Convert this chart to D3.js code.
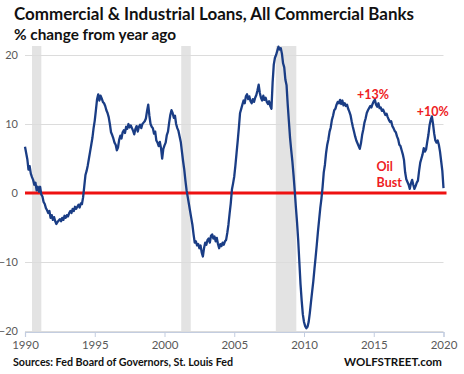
<!DOCTYPE html>
<html><head><meta charset="utf-8">
<script src="https://cdn.jsdelivr.net/npm/d3@7"></script>
<style>
html,body{margin:0;padding:0;background:#fff;}
svg{display:block;font-family:Lato,"Open Sans",sans-serif;}
</style></head>
<body><svg id="c" width="464" height="374"></svg>
<script>
// ---- data ----
const startYear = 1990; // monthly series starting Jan 1990
const pctChange = [
 6.7,5.8,4.9,3.4,3.9,2.8,2.3,1.9,1.2,1.5,0.4,0.9,
 0.2,0.9,-0.2,-0.5,-1.3,-1.6,-2.2,-2.5,-2.9,-2.6,-3.6,-3.2,
 -3.9,-3.5,-4.1,-4.5,-4.2,-4.0,-3.8,-4.1,-3.6,-3.9,-3.3,-3.6,
 -3.2,-3.4,-2.9,-2.6,-2.9,-2.3,-2.6,-2.0,-2.3,-2.0,-1.7,-2.1,
 -1.5,-1.6,-0.6,1.0,2.6,3.2,4.0,5.0,6.0,7.0,8.0,9.4,
 10.5,12.0,13.6,14.3,13.4,14.1,13.7,13.2,13.0,12.6,12.0,11.6,
 11.0,10.0,8.8,8.4,7.9,7.3,7.0,6.2,6.6,7.7,8.3,7.9,
 8.8,9.1,8.7,9.6,9.3,10.0,9.5,9.8,9.4,9.0,8.5,9.3,
 9.7,8.9,9.6,9.9,9.4,10.0,10.2,10.4,10.8,11.9,12.8,11.2,
 10.0,9.6,9.4,8.6,8.9,7.6,7.3,6.8,7.4,6.5,5.0,6.4,
 6.9,7.3,8.4,8.9,10.2,11.3,12.0,11.6,10.9,11.2,10.0,9.4,
 9.0,8.2,7.4,6.0,4.6,3.4,1.8,0.4,-0.6,-1.6,-2.6,-3.6,
 -4.6,-6.0,-7.2,-7.0,-7.6,-7.4,-8.0,-7.6,-8.6,-9.2,-8.0,-7.2,
 -7.5,-6.8,-6.6,-7.2,-6.2,-6.0,-6.6,-6.3,-7.0,-6.5,-7.4,-8.0,
 -7.4,-7.7,-7.2,-7.5,-7.0,-6.8,-5.8,-4.6,-3.0,-1.5,0.5,1.4,
 2.4,4.0,5.8,7.6,9.5,11.6,12.2,12.8,13.4,13.0,14.0,14.3,
 13.6,14.0,13.3,13.0,13.6,13.2,13.8,14.2,14.9,15.7,14.5,13.8,
 13.4,14.1,13.5,13.8,13.2,12.9,13.3,12.6,12.2,16.0,18.6,19.6,
 20.0,20.6,21.2,20.8,21.0,20.2,18.8,18.2,16.4,15.6,12.8,10.4,
 8.0,6.2,4.6,2.6,0.4,-2.0,-4.2,-6.8,-10.0,-13.2,-15.6,-17.6,
 -18.7,-19.3,-19.6,-19.4,-18.7,-17.4,-15.8,-14.3,-12.8,-11.0,-9.3,-7.5,
 -5.6,-3.9,-2.2,-0.8,0.9,3.0,4.1,5.8,7.0,7.8,8.9,9.5,
 10.6,11.2,12.0,12.2,12.8,13.2,13.0,13.5,12.9,13.4,12.7,13.0,
 12.6,12.8,12.2,11.8,11.3,10.4,9.6,8.9,8.2,7.6,7.2,6.8,
 6.4,7.2,8.4,9.2,10.2,10.8,11.6,12.0,12.3,12.6,12.4,12.9,
 13.3,13.5,12.8,12.5,13.0,12.3,12.4,11.9,12.1,11.7,11.3,11.5,
 11.0,10.6,10.3,10.4,9.7,9.4,9.0,8.8,8.2,7.8,7.0,6.8,
 6.2,5.6,4.8,3.0,2.0,1.6,1.2,0.6,1.4,1.9,1.2,0.6,
 1.0,1.5,1.8,3.2,4.4,5.0,5.6,6.5,6.0,6.3,7.4,8.4,
 9.8,10.6,11.1,10.0,8.6,7.6,7.3,7.6,7.0,6.0,4.6,3.2,
 0.7
];
const recessions = [[1990.5, 1991.17], [2001.2, 2001.88], [2007.98, 2009.45]];
const xTicks = [1990, 1995, 2000, 2005, 2010, 2015, 2020];
const yTicks = [-20, -10, 0, 10, 20];
const annotations = [
  {text: "+13%", year: 2013.8, value: 13.6},
  {text: "+10%", year: 2018.08, value: 11.2},
  {text: "Oil", year: 2015.2, value: 3.2},
  {text: "Bust", year: 2015.2, value: 0.83}
];
const titleText = "Commercial & Industrial Loans, All Commercial Banks";
const subtitleText = "% change from year ago";
const sourceText = "Sources: Fed Board of Governors, St. Louis Fed";
const brandText = "WOLFSTREET.com";

// ---- chart ----
const svg = d3.select("#c");
const x = d3.scaleLinear().domain([1990, 2020]).range([25, 443.5]);
const y = d3.scaleLinear().domain([-20, 20]).range([331, 55]);

const series = pctChange.map((v, i) => ({t: startYear + i / 12, v}));

// recession bands
svg.append("g").selectAll("rect").data(recessions).join("rect")
  .attr("x", d => x(d[0])).attr("width", d => x(d[1]) - x(d[0]))
  .attr("y", 46).attr("height", y(-20) - 46)
  .attr("fill", "#e3e3e3");

// gridlines + y labels
const yAxis = svg.append("g").attr("transform", `translate(${x(1990)},0)`)
  .call(d3.axisLeft(y).tickValues(yTicks).tickSize(-(x(2020) - x(1990))).tickPadding(7).tickFormat(d3.format("d")));
yAxis.select(".domain").remove();
yAxis.selectAll(".tick line").attr("stroke", "#dcdcdc").attr("stroke-width", 1);
yAxis.selectAll(".tick text").attr("fill", "#595959").attr("font-size", 11)
  .attr("font-family", "Lato, sans-serif");

// x axis
const xAxis = svg.append("g").attr("transform", `translate(0,${y(-20) + 1})`)
  .call(d3.axisBottom(x).tickValues(xTicks).tickSize(5).tickPadding(4).tickFormat(d3.format("d")));
xAxis.select(".domain").attr("stroke", "#c3cde0").attr("stroke-width", 1.2);
xAxis.selectAll(".tick line").attr("stroke", "#c3cde0");
xAxis.selectAll(".tick text").attr("fill", "#595959").attr("font-size", 11.5)
  .attr("font-family", "Lato, sans-serif");

// zero line
svg.append("line").attr("x1", x(1990)).attr("x2", x(2020) + 3)
  .attr("y1", y(0)).attr("y2", y(0))
  .attr("stroke", "#ee1111").attr("stroke-width", 3);

// data line
svg.append("path").datum(series)
  .attr("d", d3.line().x(d => x(d.t)).y(d => y(d.v)))
  .attr("fill", "none").attr("stroke", "#1a3d85").attr("stroke-width", 2.3)
  .attr("stroke-linejoin", "round");

// annotations
svg.append("g").selectAll("text").data(annotations).join("text")
  .attr("x", d => x(d.year)).attr("y", d => y(d.value))
  .attr("fill", "#ee1c24").attr("font-weight", "bold").attr("font-size", 12.5)
  .attr("font-family", "Lato, sans-serif")
  .text(d => d.text);

// titles
svg.append("text").attr("x", 14).attr("y", 20)
  .attr("font-weight", "bold").attr("font-size", 16.5).attr("fill", "#111")
  .attr("textLength", 400).attr("lengthAdjust", "spacingAndGlyphs")
  .text(titleText);
svg.append("text").attr("x", 14).attr("y", 40)
  .attr("font-weight", "bold").attr("font-size", 15).attr("fill", "#111")
  .attr("textLength", 162).attr("lengthAdjust", "spacingAndGlyphs")
  .text(subtitleText);

// footer
svg.append("text").attr("x", 13).attr("y", 366)
  .attr("font-weight", "bold").attr("font-size", 11.5).attr("fill", "#111")
  .attr("textLength", 220).attr("lengthAdjust", "spacingAndGlyphs")
  .text(sourceText);
svg.append("text").attr("x", 442).attr("y", 366).attr("text-anchor", "end")
  .attr("font-weight", "bold").attr("font-size", 11.5).attr("fill", "#111")
  .text(brandText);
</script></body></html>
